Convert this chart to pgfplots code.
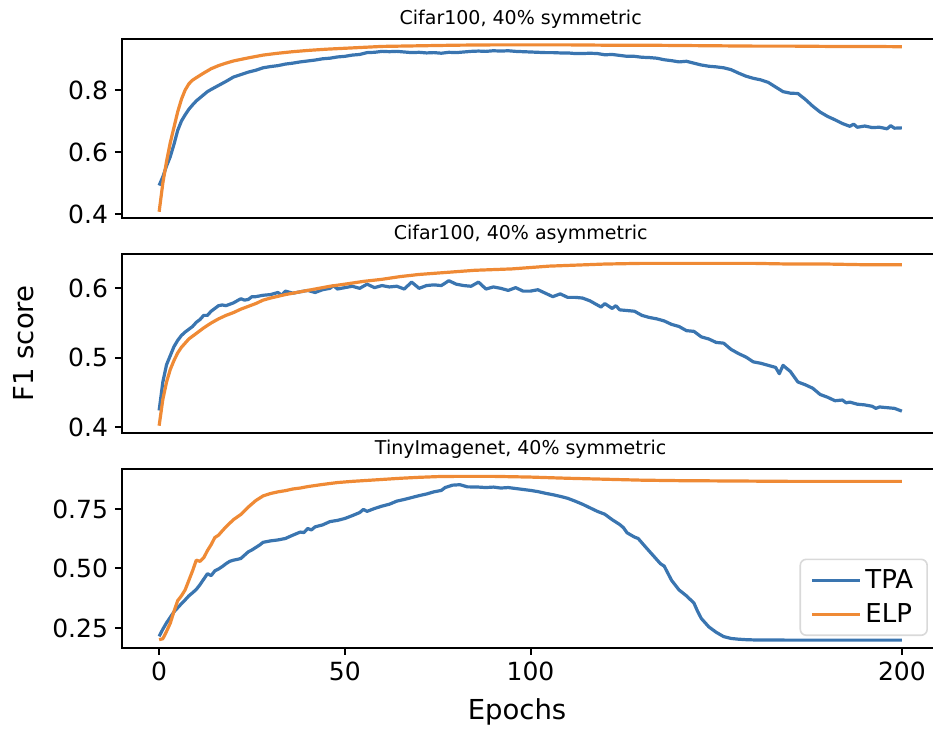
\documentclass[border=0pt]{standalone}
\usepackage{fontspec}
\setmainfont{DejaVu Sans}
\usepackage{pgfplots}
\pgfplotsset{compat=1.18}
\usepgfplotslibrary{groupplots}
\usetikzlibrary{calc}

\definecolor{tpa}{HTML}{3A75B0}
\definecolor{elp}{HTML}{EF8A35}

% Cifar100, 40% symmetric
\pgfplotstableread{
e f
0 0.492
1 0.52
2 0.555
3 0.585
4 0.625
5 0.67
6 0.70
7 0.72
8 0.738
9 0.752
10 0.765
11 0.775
12 0.785
13 0.795
14 0.802
16 0.815
18 0.828
20 0.842
22 0.85
24 0.858
26 0.864
28 0.872
30 0.876
32 0.879
34 0.884
36 0.887
38 0.891
40 0.894
42 0.897
44 0.901
46 0.903
48 0.907
50 0.909
52 0.913
54 0.915
56 0.921
58 0.922
60 0.925
62 0.924
64 0.925
66 0.923
68 0.921
70 0.922
72 0.920
74 0.921
76 0.919
78 0.922
80 0.921
82 0.923
84 0.925
86 0.926
88 0.925
90 0.927
92 0.926
94 0.927
96 0.925
98 0.924
100 0.923
102 0.922
104 0.921
106 0.921
108 0.920
110 0.920
112 0.918
114 0.918
116 0.919
118 0.918
120 0.914
122 0.915
124 0.912
126 0.909
128 0.909
130 0.906
132 0.905
134 0.903
136 0.898
138 0.895
140 0.891
142 0.893
144 0.887
146 0.881
148 0.877
150 0.875
152 0.872
154 0.866
156 0.855
158 0.845
160 0.838
162 0.833
164 0.825
166 0.810
168 0.795
170 0.790
172 0.789
174 0.770
176 0.748
178 0.729
180 0.715
182 0.704
184 0.692
186 0.683
187 0.690
188 0.680
190 0.684
192 0.679
194 0.680
196 0.675
197 0.685
198 0.677
200 0.678
}\tpaA
\pgfplotstableread{
e f
0 0.407
1 0.50
2 0.57
3 0.63
4 0.68
5 0.73
6 0.77
7 0.80
8 0.82
9 0.832
10 0.840
12 0.855
14 0.869
16 0.879
18 0.887
20 0.894
24 0.904
28 0.913
32 0.919
36 0.924
40 0.928
45 0.932
50 0.935
55 0.938
60 0.941
70 0.943
80 0.945
90 0.946
100 0.946
110 0.946
120 0.945
130 0.945
140 0.944
150 0.943
160 0.942
170 0.942
180 0.941
190 0.941
200 0.940
}\elpA

% Cifar100, 40% asymmetric
\pgfplotstableread{
e f
0 0.424
1 0.465
2 0.49
3 0.503
4 0.516
5 0.525
6 0.532
7 0.537
8 0.541
9 0.545
10 0.551
11 0.555
12 0.561
13 0.561
14 0.567
15 0.571
16 0.575
17 0.576
18 0.575
19 0.577
20 0.579
21 0.582
22 0.585
23 0.583
24 0.584
25 0.588
26 0.588
28 0.590
30 0.591
32 0.594
33 0.590
34 0.596
36 0.593
38 0.595
40 0.597
42 0.594
44 0.598
46 0.600
47 0.604
48 0.599
50 0.601
52 0.603
54 0.600
56 0.606
58 0.601
60 0.604
62 0.602
64 0.603
66 0.599
68 0.609
70 0.600
72 0.604
74 0.605
76 0.604
78 0.611
80 0.606
82 0.604
84 0.603
86 0.609
88 0.599
90 0.602
92 0.600
94 0.597
96 0.601
98 0.596
100 0.596
102 0.598
104 0.593
106 0.588
108 0.592
110 0.587
112 0.587
114 0.586
116 0.582
118 0.576
119 0.573
120 0.578
122 0.571
123 0.575
124 0.569
126 0.568
128 0.567
130 0.561
132 0.558
134 0.556
136 0.553
138 0.548
140 0.545
142 0.539
144 0.538
146 0.530
148 0.527
150 0.522
152 0.521
154 0.512
156 0.506
158 0.501
160 0.494
162 0.492
164 0.489
166 0.486
167 0.477
168 0.489
170 0.480
172 0.465
174 0.461
176 0.456
178 0.447
180 0.443
182 0.438
184 0.439
185 0.435
186 0.436
188 0.433
190 0.432
192 0.430
193 0.427
194 0.429
196 0.428
198 0.427
200 0.423
}\tpaB
\pgfplotstableread{
e f
0 0.402
1 0.440
2 0.465
3 0.483
4 0.496
5 0.507
6 0.515
8 0.527
10 0.535
12 0.543
14 0.550
16 0.556
18 0.561
20 0.565
22 0.570
24 0.574
26 0.578
28 0.583
30 0.586
34 0.591
38 0.595
42 0.599
46 0.603
50 0.606
55 0.610
60 0.613
65 0.617
70 0.620
75 0.622
80 0.624
85 0.626
90 0.627
95 0.628
100 0.630
105 0.632
110 0.633
115 0.634
120 0.635
130 0.636
140 0.636
150 0.636
160 0.636
170 0.635
180 0.635
190 0.634
200 0.634
}\elpB

% TinyImagenet, 40% symmetric
\pgfplotstableread{
e f
0 0.215
1 0.245
2 0.272
3 0.295
4 0.318
5 0.335
6 0.352
7 0.368
8 0.385
9 0.398
10 0.412
11 0.432
12 0.455
13 0.478
14 0.470
15 0.490
16 0.498
17 0.508
18 0.520
19 0.530
20 0.535
21 0.538
22 0.542
23 0.556
24 0.570
25 0.578
26 0.588
27 0.598
28 0.610
30 0.616
32 0.620
34 0.626
36 0.640
38 0.653
39 0.651
40 0.668
41 0.662
42 0.675
44 0.683
46 0.697
48 0.702
50 0.710
52 0.722
54 0.735
55 0.748
56 0.740
58 0.752
60 0.762
62 0.770
64 0.783
66 0.790
68 0.798
70 0.806
72 0.813
74 0.822
76 0.828
77 0.840
79 0.850
81 0.852
83 0.843
86 0.842
88 0.840
90 0.842
92 0.838
94 0.840
96 0.836
98 0.832
100 0.828
102 0.823
104 0.816
106 0.810
108 0.803
110 0.795
112 0.783
114 0.770
116 0.755
118 0.740
120 0.728
122 0.705
124 0.685
125 0.672
126 0.650
128 0.632
129 0.626
131 0.590
133 0.555
135 0.520
136 0.510
138 0.450
140 0.410
142 0.385
143 0.370
144 0.355
145 0.320
146 0.290
148 0.255
150 0.232
152 0.214
154 0.206
156 0.203
158 0.201
160 0.200
170 0.199
180 0.199
190 0.199
200 0.199
}\tpaC
\pgfplotstableread{
e f
0 0.201
1 0.205
2 0.236
3 0.270
4 0.320
5 0.365
6 0.385
7 0.410
8 0.450
9 0.490
10 0.535
11 0.530
12 0.545
13 0.575
14 0.600
15 0.630
16 0.640
17 0.658
18 0.675
19 0.690
20 0.705
22 0.727
24 0.758
26 0.785
28 0.805
30 0.815
32 0.822
34 0.827
36 0.834
38 0.838
40 0.844
44 0.853
48 0.861
52 0.866
56 0.870
60 0.874
65 0.879
70 0.883
75 0.886
80 0.887
90 0.887
100 0.884
110 0.879
120 0.875
130 0.871
140 0.869
150 0.868
160 0.867
170 0.866
180 0.866
190 0.866
200 0.866
}\elpC

\begin{document}
\begin{tikzpicture}
\begin{groupplot}[
    group style={group size=1 by 3, vertical sep=18pt, group name=g},
    width=408.5pt, height=89.5pt, scale only axis,
    xmin=-10, xmax=210,
    axis line style={line width=1pt},
    tick align=outside, tick style={line width=1pt, black},
    major tick length=3.5pt,
    xtick pos=bottom, ytick pos=left, xtick=\empty,
    /pgf/number format/assume math mode=true,
    ticklabel style={font=\fontsize{12.5}{15}\selectfont},
    title style={font=\fontsize{9.5}{11}\selectfont,
      at={(axis description cs:0.488,1)}, anchor=base, yshift=1pt},
    every axis plot/.append style={line width=1.6pt, line join=round},
  ]
  \nextgroupplot[title={Cifar100, 40\% symmetric},
    ymin=0.387, ymax=0.965, ytick={0.4,0.6,0.8}]
  \addplot[tpa] table[x=e, y=f] {\tpaA};
  \addplot[elp] table[x=e, y=f] {\elpA};

  \nextgroupplot[title={Cifar100, 40\% asymmetric},
    ymin=0.3915, ymax=0.6495, ytick={0.4,0.5,0.6},
    ylabel={F1 score},
    ylabel style={font=\fontsize{13.75}{16}\selectfont,
      at={(axis description cs:-0.120,0.5)}, anchor=center}]
  \addplot[tpa] table[x=e, y=f] {\tpaB};
  \addplot[elp] table[x=e, y=f] {\elpB};

  \nextgroupplot[title={TinyImagenet, 40\% symmetric},
    ymin=0.166, ymax=0.918, ytick={0.25,0.5,0.75},
    yticklabel style={/pgf/number format/.cd, fixed, fixed zerofill, precision=2},
    xtick={0,50,100,200},
    xlabel={Epochs},
    xlabel style={font=\fontsize{13.75}{16}\selectfont,
      at={(axis description cs:0.4835,-0.3575)}, anchor=center},
    legend style={at={(axis description cs:0.9865,0.0667)}, anchor=south east,
      draw=black!15, line width=0.8pt, rounded corners=3pt,
      fill=white, fill opacity=0.8, text opacity=1,
      font=\fontsize{13}{15}\selectfont,
      inner xsep=5pt, inner ysep=3pt, row sep=2pt},
    legend image code/.code={\draw[#1] (0pt,0pt) -- (24pt,0pt);},
    legend cell align=left]
  \addplot[tpa] table[x=e, y=f] {\tpaC};
  \addplot[elp] table[x=e, y=f] {\elpC};
  \legend{TPA,ELP}
\end{groupplot}
\pgfresetboundingbox
\useasboundingbox ($(g c1r3.south west)+(-61pt,-41.5pt)$) rectangle ($(g c1r3.south west)+(405.5pt,324pt)$);
\end{tikzpicture}
\end{document}
